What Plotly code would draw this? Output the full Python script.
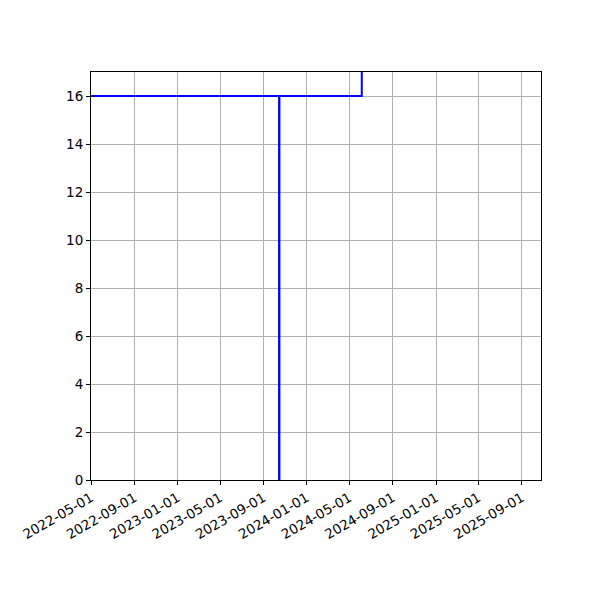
import plotly.graph_objects as go

# step series
dates = ["2022-05-01", "2023-10-15", "2023-10-16", "2024-06-05", "2025-10-25"]
values = [16, 0, 16, 30, 30]

x_range = ["2022-05-01", "2025-10-25"]
y_range = [0, 17]

fig = go.Figure()
fig.add_trace(go.Scatter(x=dates, y=values, mode="lines", line_shape="hv",
                         line=dict(color="blue", width=2), showlegend=False))

axis_style = dict(showline=True, linecolor="black", linewidth=1, mirror=True,
                  showgrid=True, gridcolor="#b0b0b0", gridwidth=1,
                  ticks="outside", ticklen=4, tickcolor="black", zeroline=False,
                  tickfont=dict(family="DejaVu Sans", size=13.5, color="black"))

fig.update_xaxes(range=x_range, type="date", tick0="2022-05-01", dtick="M4",
                 tickformat="%Y-%m-%d", tickangle=-30, **axis_style)
fig.update_yaxes(range=y_range, tick0=0, dtick=2, **axis_style)

# page body adds ~8px offset, so margins are shifted to compensate
fig.update_layout(width=600, height=600, plot_bgcolor="white", paper_bgcolor="white",
                  margin=dict(l=83, r=67, t=64, b=128))

fig.write_html("out.html")
